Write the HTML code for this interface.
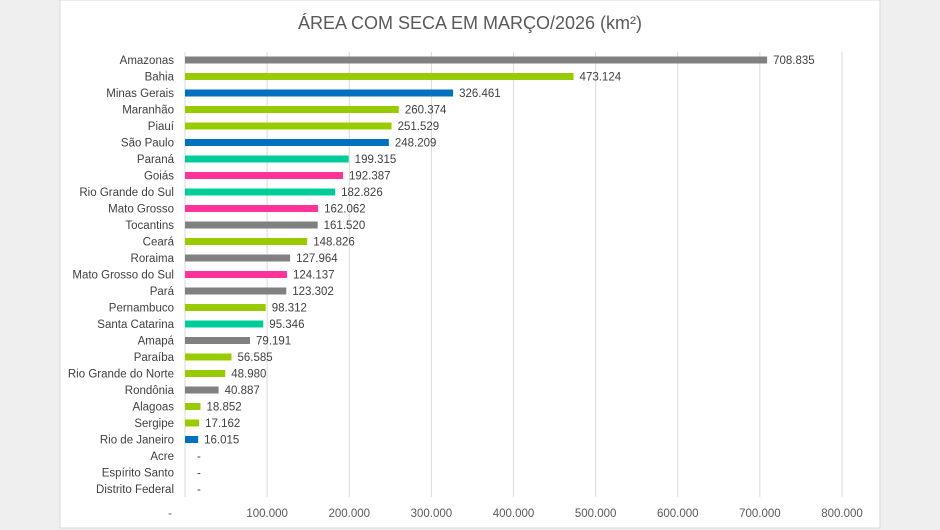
<!DOCTYPE html>
<html><head><meta charset="utf-8"><style>
body{margin:0;background:#efefef;}
svg{display:block;font-family:"Liberation Sans",sans-serif;}
</style></head><body>
<svg width="940" height="530" xmlns="http://www.w3.org/2000/svg">
<rect x="0" y="0" width="940" height="530" fill="#efefef"/>
<rect x="60" y="0" width="820" height="528" fill="#fff" stroke="#d9d9d9"/>
<text x="470" y="29" text-anchor="middle" font-size="18" fill="#595959">ÁREA COM SECA EM MARÇO/2026 (km²)</text>
<g id="grid" stroke="#d9d9d9" stroke-width="1"></g>
<g id="bars"></g>
</svg>
<script>
const d=[["Amazonas",708835,"#808080"],["Bahia",473124,"#99cc00"],["Minas Gerais",326461,"#0070c0"],["Maranhão",260374,"#99cc00"],["Piauí",251529,"#99cc00"],["São Paulo",248209,"#0070c0"],["Paraná",199315,"#00cc99"],["Goiás",192387,"#ff3399"],["Rio Grande do Sul",182826,"#00cc99"],["Mato Grosso",162062,"#ff3399"],["Tocantins",161520,"#808080"],["Ceará",148826,"#99cc00"],["Roraima",127964,"#808080"],["Mato Grosso do Sul",124137,"#ff3399"],["Pará",123302,"#808080"],["Pernambuco",98312,"#99cc00"],["Santa Catarina",95346,"#00cc99"],["Amapá",79191,"#808080"],["Paraíba",56585,"#99cc00"],["Rio Grande do Norte",48980,"#99cc00"],["Rondônia",40887,"#808080"],["Alagoas",18852,"#99cc00"],["Sergipe",17162,"#99cc00"],["Rio de Janeiro",16015,"#0070c0"],["Acre",0,""],["Espírito Santo",0,""],["Distrito Federal",0,""]];
const ns="http://www.w3.org/2000/svg",x0=185,s=657/800000;
const g=document.getElementById("grid"),b=document.getElementById("bars");
function el(p,t,a,txt){const e=document.createElementNS(ns,t);for(const k in a)e.setAttribute(k,a[k]);if(txt!=null)e.textContent=txt;p.appendChild(e);return e;}
const fmt=v=>v.toString().replace(/\B(?=(\d{3})+(?!\d))/g,".");
for(let i=0;i<=8;i++){const x=x0+i*100000*s;el(g,"line",{x1:x,x2:x,y1:52,y2:497});
el(b,"text",{x:i?x:170,y:517,"text-anchor":"middle","font-size":"11.5",fill:"#595959"},i?fmt(i*100000):"-");}
d.forEach((r,i)=>{const y=60+i*16.5;
el(b,"text",{x:174,y:y+4,"text-anchor":"end","font-size":"11.5",fill:"#404040"},r[0]);
const w=r[1]*s;if(w>0)el(b,"rect",{x:x0,y:y-3.5,width:w,height:7,fill:r[2]});
el(b,"text",{x:x0+w+(w?6:12),y:y+4,"font-size":"11.5",fill:"#404040"},r[1]?fmt(r[1]):"-");});
</script>
</body></html>
